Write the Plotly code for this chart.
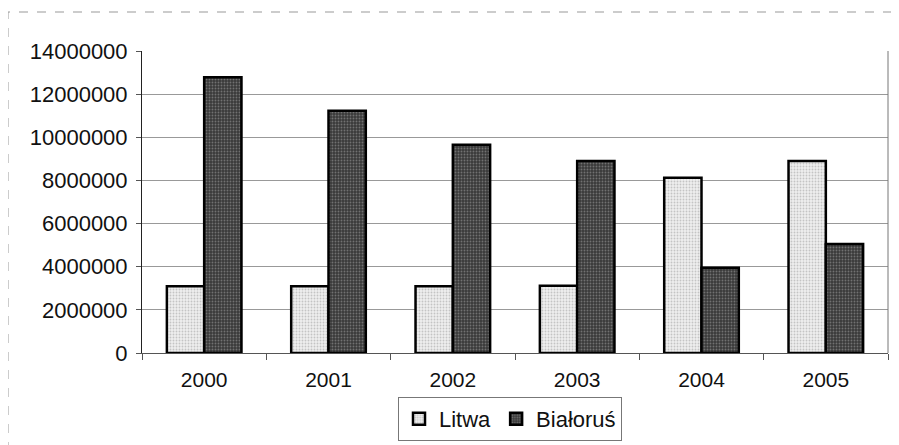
import plotly.graph_objects as go

years = ["2000", "2001", "2002", "2003", "2004", "2005"]
litwa = [3100000, 3100000, 3100000, 3120000, 8120000, 8900000]
bialorus = [12780000, 11230000, 9650000, 8900000, 3950000, 5050000]
y_ticks = [0, 2000000, 4000000, 6000000, 8000000, 10000000, 12000000, 14000000]

fig = go.Figure()
fig.add_trace(go.Bar(
    name="Litwa", x=years, y=litwa,
    marker=dict(color="#e4e4e4", line=dict(color="#000", width=2.5),
                pattern=dict(shape=".", bgcolor="#eeeeee", fgcolor="#9a9a9a", size=3, solidity=0.3)),
))
fig.add_trace(go.Bar(
    name="Białoruś", x=years, y=bialorus,
    marker=dict(color="#444", line=dict(color="#000", width=2.5),
                pattern=dict(shape=".", bgcolor="#3a3a3a", fgcolor="#a8a8a8", size=3, solidity=0.3)),
))

# the page body adds an 8px offset; positions below are given in reference pixels
OFF = 8
W, H = 899, 445
PL, PR, PT, PB = 142, 888, 51, 353  # plot area in reference pixels
L, T = PL - OFF, PT - OFF
R, B = W - (PR - OFF), H - (PB - OFF)
pw, ph = PR - PL, PB - PT

def px(x):
    return (x - PL) / pw

def py(y):
    return (PB - y) / ph

fig.update_layout(
    width=W, height=H,
    margin=dict(l=L, r=R, t=T, b=B, pad=0, autoexpand=False),
    paper_bgcolor="white", plot_bgcolor="white",
    barmode="group", bargap=0.4, bargroupgap=0,
    font=dict(family="Liberation Sans, Arial, sans-serif", size=21, color="#111"),
    showlegend=True,
    legend=dict(orientation="h", x=px(510), xanchor="center", y=py(397), yanchor="top",
                bordercolor="#777", borderwidth=1, bgcolor="white",
                font=dict(size=22), itemwidth=30, tracegroupgap=0),
    shapes=[
        dict(type="rect", xref="paper", yref="paper",
             x0=px(8), x1=px(905), y0=py(452), y1=py(12),
             line=dict(color="#999", width=1, dash="dash"), layer="below"),
        dict(type="line", xref="paper", yref="paper",
             x0=1, x1=1, y0=0, y1=1, line=dict(color="#777", width=1)),
    ],
)
fig.update_xaxes(
    type="category", showgrid=False, showline=True, linecolor="#555", linewidth=1,
    ticks="outside", tickson="boundaries", ticklen=6, tickcolor="#555",
    tickfont=dict(size=21), automargin=False, ticklabelstandoff=8,
)
fig.update_yaxes(
    range=[0, 14000000], tickvals=y_ticks, ticktext=[str(v) for v in y_ticks],
    showgrid=True, gridcolor="#999", gridwidth=1,
    showline=True, linecolor="#222", linewidth=1,
    ticks="outside", ticklen=5, tickcolor="#555",
    tickfont=dict(size=22), zeroline=False, automargin=False, ticklabelstandoff=4,
)

fig.write_html("out.html")
